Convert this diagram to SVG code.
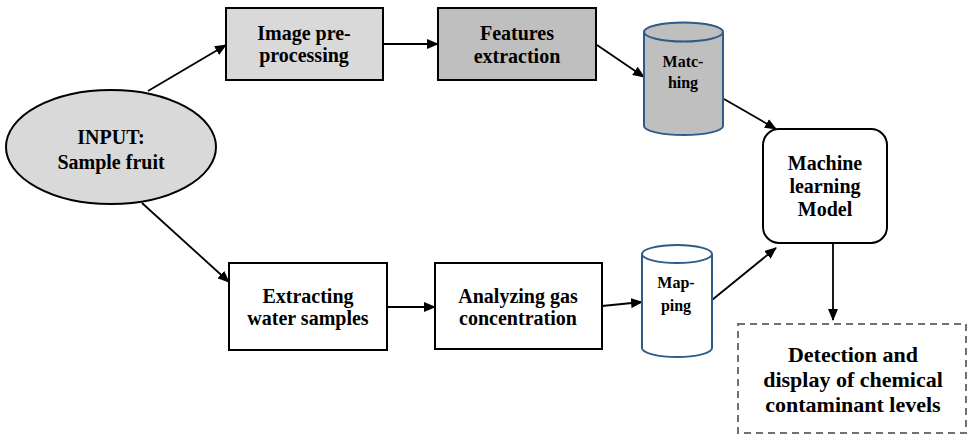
<svg xmlns="http://www.w3.org/2000/svg" width="967" height="436" viewBox="0 0 967 436">
  <style>
    text { font-family: 'Liberation Serif', 'DejaVu Serif', serif; font-weight: bold; font-size: 20px; fill: #000; text-anchor: middle; }
    .s { font-size: 16px; }
    .l { font-size: 22px; }
    .box { stroke: #000; stroke-width: 2; }
    .cyl { stroke: #2f5b88; stroke-width: 2; }
    .edge { stroke: #000; stroke-width: 1.8; fill: none; marker-end: url(#arrow); }
  </style>
  <defs>
    <marker id="arrow" viewBox="0 0 12 10" refX="11" refY="5" markerWidth="12" markerHeight="10" markerUnits="userSpaceOnUse" orient="auto">
      <path d="M0,0 L12,5 L0,10 Z" fill="#000"/>
    </marker>
  </defs>
  <rect width="967" height="436" fill="#fff"/>

  <g id="connectors">
    <line class="edge" x1="148" y1="91" x2="226" y2="45"/>
    <line class="edge" x1="383" y1="44" x2="438" y2="44"/>
    <line class="edge" x1="597" y1="45" x2="644" y2="77"/>
    <line class="edge" x1="724" y1="99" x2="776" y2="129"/>
    <line class="edge" x1="142" y1="203" x2="229" y2="282"/>
    <line class="edge" x1="387" y1="307" x2="435" y2="307"/>
    <line class="edge" x1="602" y1="306" x2="642" y2="302"/>
    <line class="edge" x1="712" y1="300" x2="776" y2="248"/>
    <line class="edge" x1="833" y1="243" x2="833" y2="320"/>
  </g>

  <g id="input">
    <ellipse cx="111" cy="147" rx="105" ry="57" fill="#d9d9d9" class="box"/>
    <text x="111" y="144">INPUT:</text>
    <text x="111" y="169">Sample fruit</text>
  </g>

  <g id="image-preprocessing">
    <rect x="226" y="8" width="157" height="72" fill="#d9d9d9" class="box"/>
    <text x="304" y="40">Image pre-</text>
    <text x="304" y="62">processing</text>
  </g>

  <g id="features-extraction">
    <rect x="438" y="8" width="158" height="72" fill="#bfbfbf" class="box"/>
    <text x="517" y="40">Features</text>
    <text x="517" y="63">extraction</text>
  </g>

  <g id="matching">
    <path d="M644,32 L644,126 A39.5,9 0 0 0 723,126 L723,32" fill="#bfbfbf" class="cyl"/>
    <ellipse cx="683.5" cy="32" rx="39.5" ry="9.5" fill="#bfbfbf" class="cyl"/>
    <text class="s" x="683" y="67">Matc-</text>
    <text class="s" x="683" y="88">hing</text>
  </g>

  <g id="ml-model">
    <rect x="763" y="129" width="124" height="114" rx="16" ry="16" fill="#fff" class="box"/>
    <text x="825" y="170">Machine</text>
    <text x="825" y="193">learning</text>
    <text x="825" y="216">Model</text>
  </g>

  <g id="detection">
    <rect x="738" y="324" width="228" height="109" fill="#fff" stroke="#707070" stroke-width="2" stroke-dasharray="7,5"/>
    <text class="l" x="853" y="362">Detection and</text>
    <text class="l" x="853" y="387">display of chemical</text>
    <text class="l" x="853" y="412">contaminant levels</text>
  </g>

  <g id="extracting-water">
    <rect x="229" y="263" width="158" height="87" fill="#fff" class="box"/>
    <text x="308" y="303">Extracting</text>
    <text x="308" y="325">water samples</text>
  </g>

  <g id="analyzing-gas">
    <rect x="435" y="263" width="167" height="86" fill="#fff" class="box"/>
    <text x="518" y="303">Analyzing gas</text>
    <text x="518" y="325">concentration</text>
  </g>

  <g id="mapping">
    <path d="M642,254 L642,348 A35,9 0 0 0 712,348 L712,254" fill="#fff" class="cyl"/>
    <ellipse cx="677" cy="254" rx="35" ry="9" fill="#fff" class="cyl"/>
    <text class="s" x="676" y="288">Map-</text>
    <text class="s" x="676" y="311">ping</text>
  </g>
</svg>
